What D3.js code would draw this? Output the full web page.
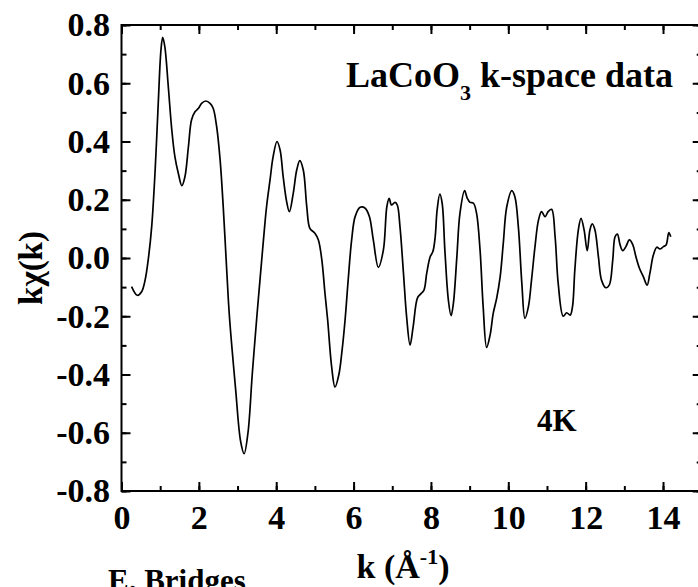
<!DOCTYPE html>
<html><head><meta charset="utf-8">
<script src="https://cdn.jsdelivr.net/npm/d3@7"></script>
<style>body{margin:0;background:#fff;} svg{display:block;}</style>
</head><body>
<svg id="chart" width="698" height="587"></svg>
<script>
// k values (Å^-1)
const kValues = [0.26,0.41,0.52,0.61,0.69,0.78,0.87,0.95,1.02,1.065,1.12,1.21,1.30,1.38,1.47,1.56,1.64,1.73,1.81,1.90,1.99,2.07,2.18,2.29,2.37,2.46,2.55,2.63,2.72,2.79,2.95,3.08,3.17,3.27,3.38,3.50,3.58,3.67,3.75,3.84,3.92,4.02,4.10,4.18,4.27,4.34,4.44,4.53,4.61,4.70,4.79,4.87,5.00,5.09,5.18,5.26,5.33,5.43,5.52,5.62,5.70,5.78,5.86,5.95,6.04,6.17,6.30,6.41,6.51,6.64,6.77,6.86,6.92,6.98,7.07,7.13,7.20,7.29,7.37,7.46,7.54,7.65,7.73,7.82,7.89,7.98,8.05,8.11,8.16,8.23,8.29,8.36,8.45,8.52,8.58,8.67,8.75,8.87,8.94,9.01,9.10,9.18,9.27,9.35,9.44,9.53,9.61,9.70,9.79,9.87,9.96,10.09,10.17,10.26,10.35,10.43,10.52,10.60,10.69,10.78,10.86,10.95,11.03,11.12,11.21,11.29,11.42,11.51,11.60,11.66,11.72,11.81,11.88,11.96,12.04,12.11,12.17,12.24,12.33,12.41,12.52,12.61,12.70,12.76,12.82,12.89,12.96,13.04,13.13,13.22,13.30,13.39,13.49,13.59,13.66,13.75,13.84,13.92,14.01,14.08,14.15,14.20];
// k*chi(k) values
const kchiValues = [-0.098,-0.128,-0.116,-0.076,-0.007,0.107,0.302,0.531,0.714,0.758,0.726,0.588,0.44,0.348,0.29,0.248,0.279,0.382,0.474,0.502,0.514,0.531,0.539,0.531,0.514,0.451,0.336,0.176,-0.041,-0.2,-0.45,-0.63,-0.672,-0.6,-0.4,-0.2,-0.076,0.062,0.176,0.268,0.348,0.40,0.371,0.279,0.193,0.159,0.222,0.302,0.334,0.302,0.176,0.102,0.085,0.062,-0.007,-0.121,-0.213,-0.37,-0.443,-0.4,-0.32,-0.213,-0.076,0.062,0.142,0.174,0.171,0.142,0.062,-0.032,0.027,0.176,0.205,0.182,0.191,0.182,0.107,-0.053,-0.2,-0.299,-0.236,-0.138,-0.124,-0.11,-0.053,0.004,0.022,0.073,0.165,0.219,0.188,0.027,-0.144,-0.198,-0.156,0.004,0.153,0.231,0.205,0.191,0.188,0.153,0.027,-0.167,-0.307,-0.264,-0.19,-0.138,-0.064,0.05,0.176,0.231,0.21,0.107,-0.087,-0.207,-0.167,-0.076,0.039,0.13,0.159,0.142,0.159,0.167,0.073,-0.087,-0.2,-0.188,-0.196,-0.167,-0.041,0.096,0.136,0.096,0.025,0.096,0.117,0.096,0.004,-0.076,-0.102,-0.093,-0.007,0.073,0.082,0.045,0.025,0.039,0.062,0.045,0.004,-0.035,-0.064,-0.093,-0.053,0.01,0.037,0.031,0.039,0.045,0.087,0.073];
const xTickValues = [0,2,4,6,8,10,12,14];
const yTickValues = [-0.8,-0.6,-0.4,-0.2,0.0,0.2,0.4,0.6,0.8];
const xTickLabels = ["0","2","4","6","8","10","12","14"];
const yTickLabels = ["-0.8","-0.6","-0.4","-0.2","0.0","0.2","0.4","0.6","0.8"];

const svg = d3.select("#chart");
const font = "'Liberation Serif','Times New Roman',serif";
const L = 121.5, R = 701.7, T = 25, B = 491;
const x = d3.scaleLinear().domain([0, 15]).range([L, R]);
const y = d3.scaleLinear().domain([-0.8, 0.8]).range([B, T]);

const minorX = d3.range(0, 16, 1);
const minorY = d3.range(-8, 9, 1).map(d => d / 10);

function styleAxis(g) {
  g.select(".domain").remove();
  g.selectAll("line").attr("stroke", "#000").attr("stroke-width", 2);
}
// bottom
svg.append("g").attr("transform", `translate(0,${B})`)
  .call(d3.axisBottom(x).tickValues(minorX).tickSize(-5).tickFormat(""))
  .call(styleAxis);
const gxb = svg.append("g").attr("transform", `translate(0,${B})`)
  .call(d3.axisBottom(x).tickValues(xTickValues).tickSize(-9).tickPadding(14)
    .tickFormat((d, i) => xTickLabels[i]))
  .call(styleAxis);
gxb.selectAll("text").attr("font-family", font).attr("font-weight", "bold")
  .attr("font-size", 34).attr("fill", "#000");
// top
svg.append("g").attr("transform", `translate(0,${T})`)
  .call(d3.axisTop(x).tickValues(minorX).tickSize(-5).tickFormat(""))
  .call(styleAxis);
svg.append("g").attr("transform", `translate(0,${T})`)
  .call(d3.axisTop(x).tickValues(xTickValues).tickSize(-9).tickFormat(""))
  .call(styleAxis);
// left
svg.append("g").attr("transform", `translate(${L},0)`)
  .call(d3.axisLeft(y).tickValues(minorY).tickSize(-5).tickFormat(""))
  .call(styleAxis);
const gyl = svg.append("g").attr("transform", `translate(${L},0)`)
  .call(d3.axisLeft(y).tickValues(yTickValues).tickSize(-9).tickPadding(11.5)
    .tickFormat((d, i) => yTickLabels[i]))
  .call(styleAxis);
gyl.selectAll("text").attr("font-family", font).attr("font-weight", "bold")
  .attr("font-size", 34).attr("fill", "#000");
// right
svg.append("g").attr("transform", `translate(${R},0)`)
  .call(d3.axisRight(y).tickValues(minorY).tickSize(-5).tickFormat(""))
  .call(styleAxis);
svg.append("g").attr("transform", `translate(${R},0)`)
  .call(d3.axisRight(y).tickValues(yTickValues).tickSize(-9).tickFormat(""))
  .call(styleAxis);

// frame
svg.append("path")
  .attr("d", `M${L},${T}H${R}V${B}H${L}Z`)
  .attr("fill", "none").attr("stroke", "#000").attr("stroke-width", 2);

// curve
const data = kValues.map((k, i) => [k, kchiValues[i]]);
svg.append("path").datum(data)
  .attr("fill", "none").attr("stroke", "#000").attr("stroke-width", 1.7)
  .attr("stroke-linejoin", "round")
  .attr("d", d3.line().x(d => x(d[0])).y(d => y(d[1])).curve(d3.curveCatmullRom.alpha(0.5)));

// title
const title = svg.append("text").attr("x", 673).attr("y", 87)
  .attr("text-anchor", "end").attr("font-family", font).attr("font-weight", "bold")
  .attr("font-size", 36).attr("fill", "#000");
title.append("tspan").text("LaCoO");
title.append("tspan").attr("font-size", 22).attr("dy", 13).text("3");
title.append("tspan").attr("dy", -13).text(" k-space data");

svg.append("text").attr("x", 537).attr("y", 431)
  .attr("font-family", font).attr("font-weight", "bold").attr("font-size", 31)
  .text("4K");

// x label
const xl = svg.append("text").attr("x", 403).attr("y", 578).attr("text-anchor", "middle")
  .attr("font-family", font).attr("font-weight", "bold").attr("font-size", 34);
xl.append("tspan").text("k (Å");
xl.append("tspan").attr("font-size", 22).attr("dy", -14).text("-1");
xl.append("tspan").attr("dy", 14).text(")");

// y label
svg.append("text").attr("transform", "translate(42,268) rotate(-90)")
  .attr("text-anchor", "middle")
  .attr("font-family", font).attr("font-weight", "bold").attr("font-size", 33)
  .text("kχ(k)");

svg.append("text").attr("x", 108).attr("y", 591)
  .attr("font-family", font).attr("font-weight", "bold").attr("font-size", 31)
  .text("E. Bridges");
</script>
</body></html>
